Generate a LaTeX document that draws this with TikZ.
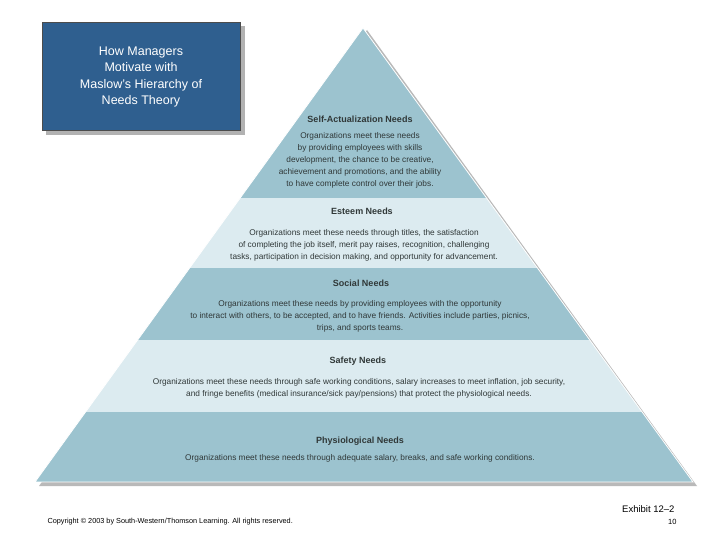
\documentclass[tikz,border=0pt]{standalone}
\usepackage{fontspec}
\setmainfont{Liberation Sans}
\definecolor{dk}{HTML}{9CC3CF}
\definecolor{lt}{HTML}{DCEBF0}
\definecolor{tbox}{HTML}{2F5F8F}
\definecolor{tx}{HTML}{303838}
\begin{document}
\begin{tikzpicture}[x=1pt,y=-1pt,
 hd/.style={font=\fontsize{9}{10}\selectfont\bfseries,text=tx},
 bd/.style={font=\fontsize{8.3}{12}\selectfont,text=tx,align=center}]
\useasboundingbox (0,0) rectangle (720,540);
\fill[white] (0,0) rectangle (720,540);
% shadow
\fill[gray!55] (367,30) -- (697,486) -- (39,486) -- cycle;
\begin{scope}
\clip (363,28) -- (693,482) -- (35,482) -- cycle;
\fill[dk] (0,0) rectangle (720,198);
\fill[lt] (0,198) rectangle (720,268);
\fill[dk] (0,268) rectangle (720,340);
\fill[lt] (0,340) rectangle (720,412);
\fill[dk] (0,412) rectangle (720,482);
\end{scope}
\draw[white,line width=0.8pt] (363,28) -- (693,482) -- (35,482) -- cycle;
% title box
\fill[gray!60] (46,26) rectangle (245,135);
\node[draw=black!70,fill=tbox,minimum width=198pt,minimum height=108pt,anchor=north west,inner sep=0pt] (tb) at (42,22) {};
\node[text=white,align=center,font=\fontsize{12.5}{16.5}\selectfont] (tt) at (141,77) {How Managers\\Motivate with\\Maslow’s Hierarchy of\\Needs Theory};
% texts
\node[hd] (h1) at (360,119) {Self-Actualization Needs};
\node[bd] (b1) at (360,160) {Organizations meet these needs\\by providing employees with skills\\development, the chance to be creative,\\achievement and promotions, and the ability\\to have complete control over their jobs.};
\node[hd] (h2) at (362,211) {Esteem Needs};
\node[bd] (b2) at (364,245) {Organizations meet these needs through titles, the satisfaction\\of completing the job itself, merit pay raises, recognition, challenging\\tasks, participation in decision making, and opportunity for advancement.};
\node[hd] (h3) at (361,283) {Social Needs};
\node[bd] (b3) at (360,316) {Organizations meet these needs by providing employees with the opportunity\\to interact with others, to be accepted, and to have friends.  Activities include parties, picnics,\\trips, and sports teams.};
\node[hd] (h4) at (358,361) {Safety Needs};
\node[bd] (b4) at (359,388) {Organizations meet these needs through safe working conditions, salary increases to meet inflation, job security,\\and fringe benefits (medical insurance/sick pay/pensions) that protect the physiological needs.};
\node[hd] (h5) at (360,441) {Physiological Needs};
\node[bd] (b5) at (360,458) {Organizations meet these needs through adequate salary, breaks, and safe working conditions.};
\node[anchor=west,font=\fontsize{7.3}{9}\selectfont] (cp) at (44,522) {Copyright © 2003 by South-Western/Thomson Learning. All rights reserved.};
\node[anchor=east,font=\fontsize{9.5}{11}\selectfont] (ex) at (678,509) {Exhibit 12–2};
\node[anchor=east,font=\fontsize{7.5}{9}\selectfont] (pg) at (680,522) {10};
\end{tikzpicture}
\end{document}
